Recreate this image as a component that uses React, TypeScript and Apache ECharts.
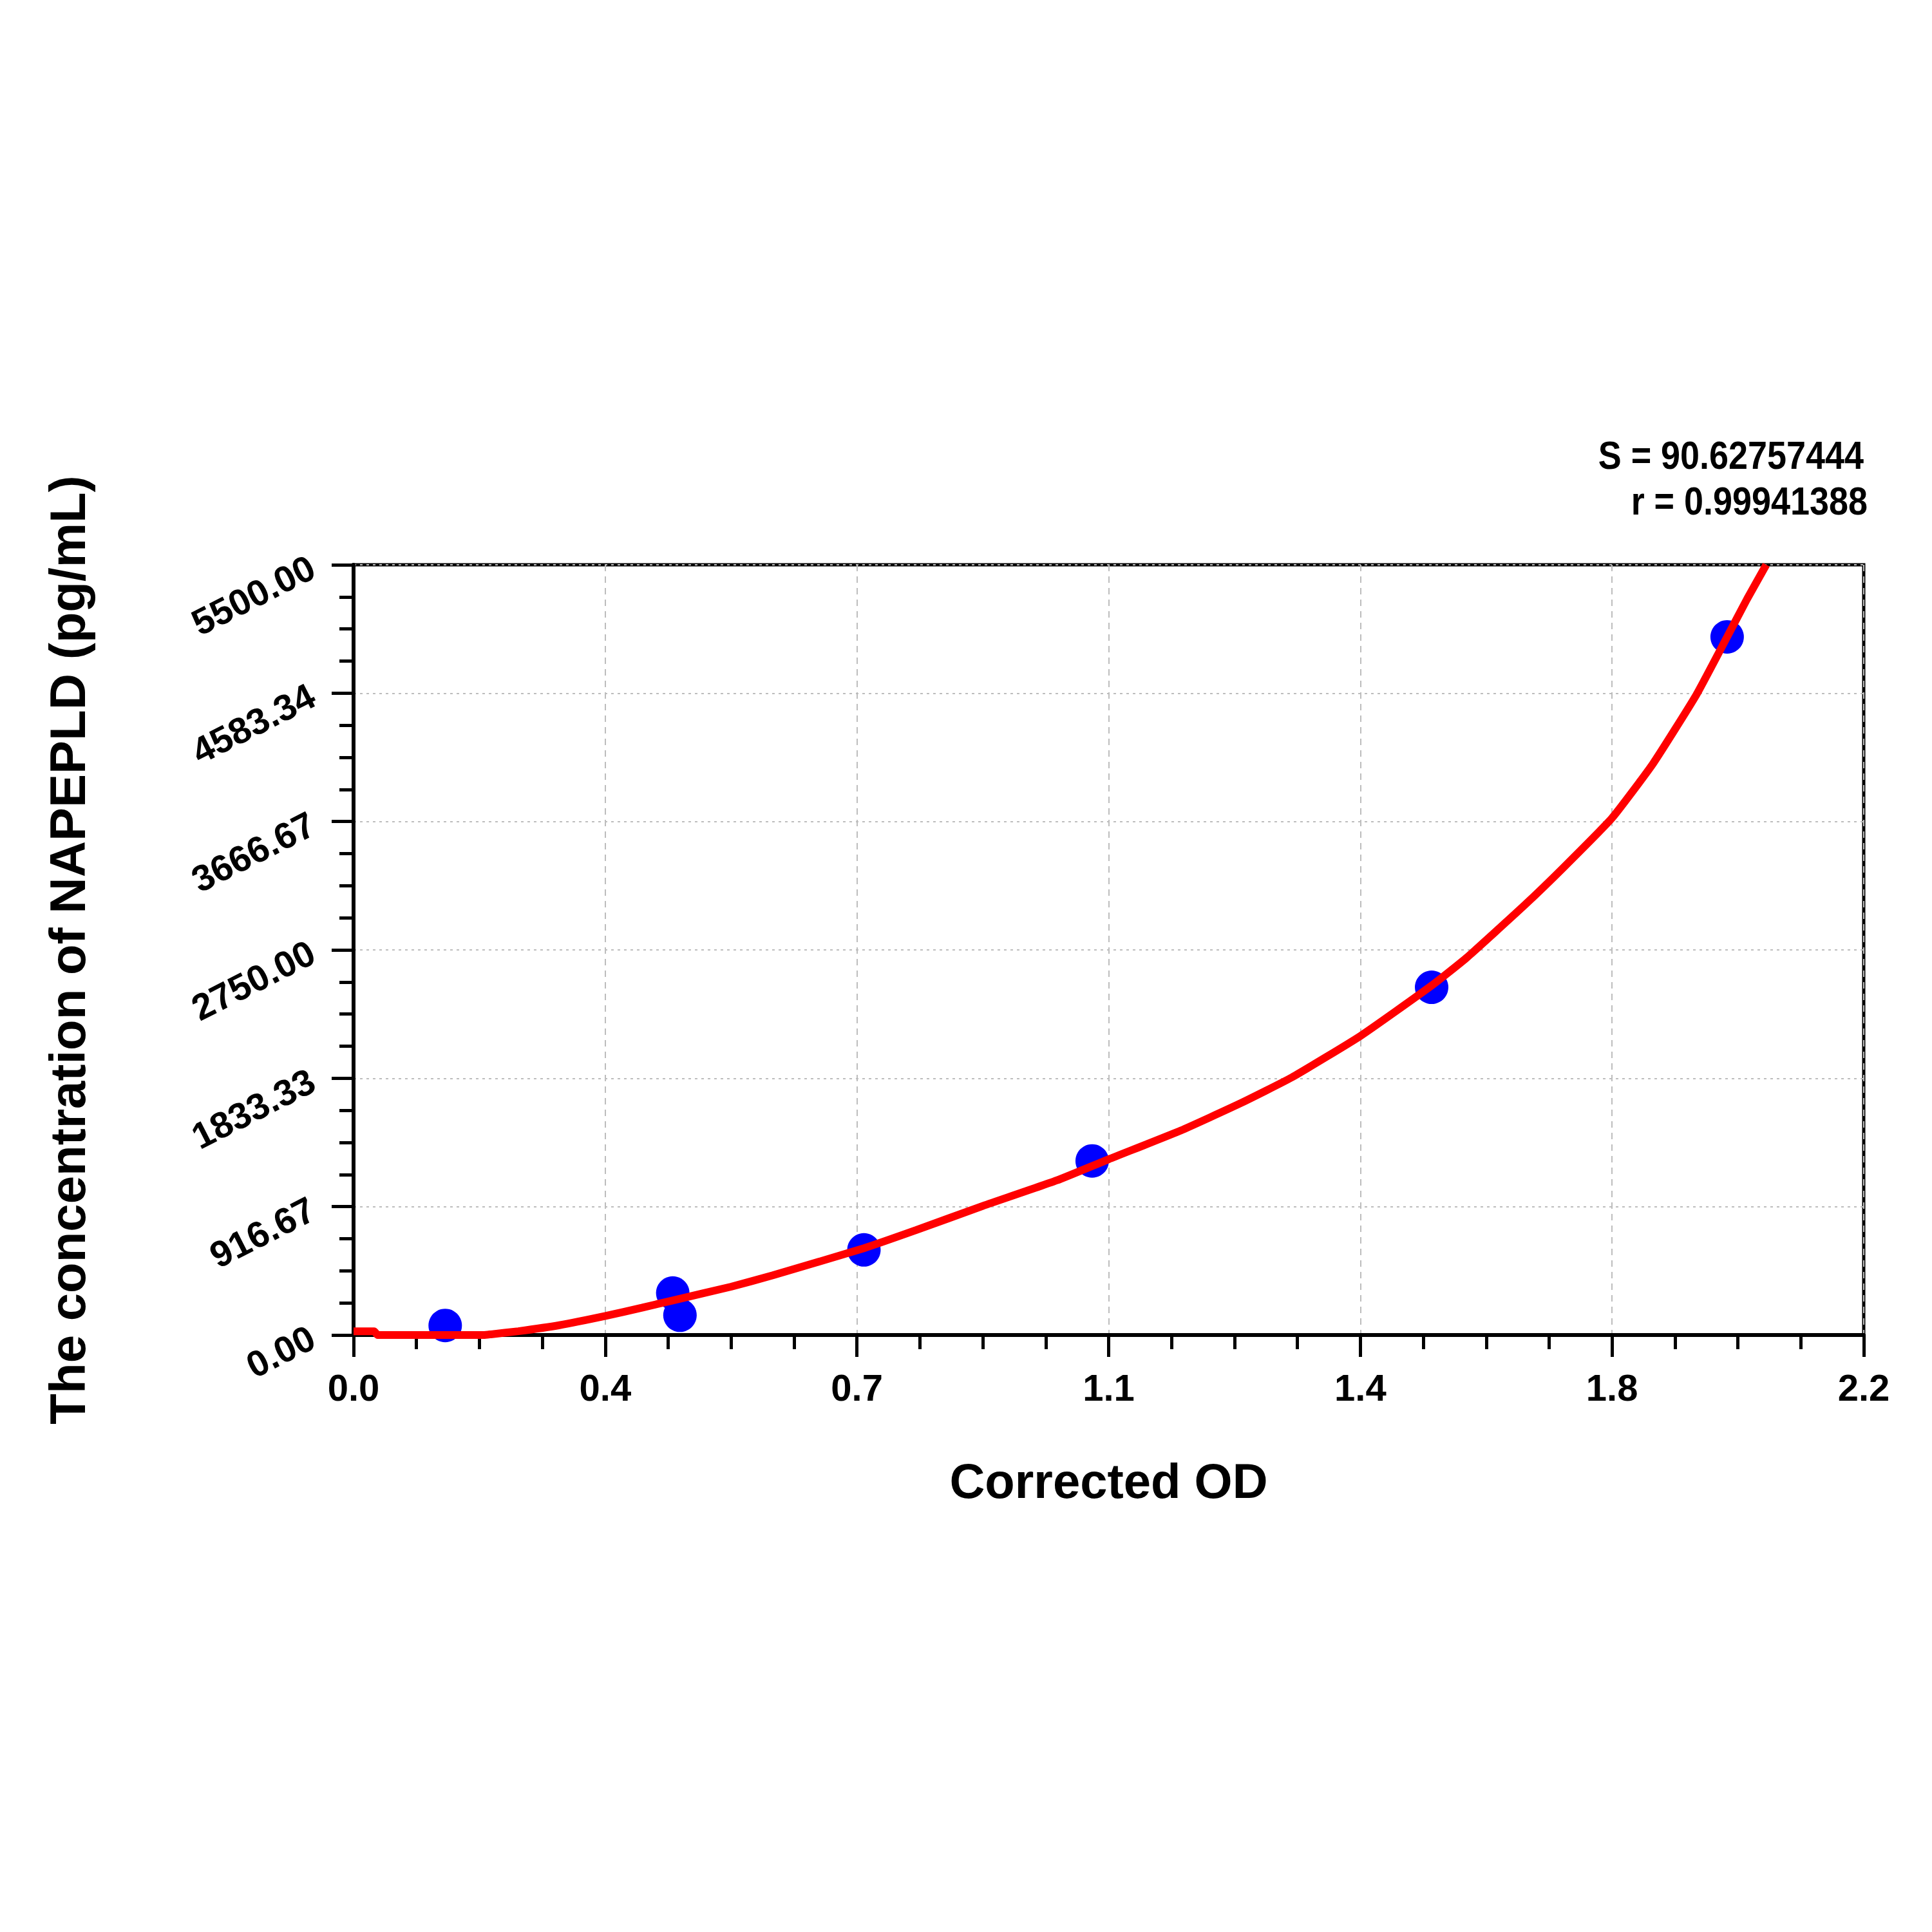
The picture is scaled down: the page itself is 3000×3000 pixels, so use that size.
import { useEffect, useRef } from 'react';
import * as echarts from 'echarts';

// tick labels as printed on the figure
const X_TICK_LABELS = ['0.0', '0.4', '0.7', '1.1', '1.4', '1.8', '2.2'];
const Y_TICK_LABELS = ['0.00', '916.67', '1833.33', '2750.00', '3666.67', '4583.34', '5500.00'];

// standards (corrected OD vs concentration)
const STD_OD = [0.1335, 0.465, 0.4755, 0.7435, 1.076, 1.5705, 2.001];
const STD_CONC = [68, 300, 141, 608, 1243, 2483, 4985];

// fitted curve
const FIT_OD = [0, 0.03, 0.035, 0.1, 0.19, 0.2, 0.24, 0.3, 0.367, 0.42, 0.465, 0.55, 0.61, 0.7435, 0.82, 0.914, 1.025, 1.1, 1.205, 1.29, 1.367, 1.4667, 1.5705, 1.621, 1.706, 1.763, 1.833, 1.893, 1.956, 2.001, 2.03, 2.058];
const FIT_CONC = [27, 27, 0, 0, 0, 5, 27, 70, 136, 195, 247, 345, 425, 620, 750, 917, 1105, 1255, 1460, 1650, 1840, 2135, 2495, 2692, 3070, 3340, 3690, 4080, 4570, 4985, 5255, 5500];

const STATS = ['S = 90.62757444', 'r = 0.99941388'];

const FONT = 'Arial, "Liberation Sans", sans-serif';

const App = () => {
  const chartRef = useRef<HTMLDivElement>(null);

  useEffect(() => {
    if (!chartRef.current) return;
    const myChart = echarts.init(chartRef.current, undefined, { renderer: 'svg' });

    const option: echarts.EChartsOption = {
      animation: false,
      backgroundColor: '#fff',
      textStyle: { fontFamily: FONT, fontWeight: 'bold', color: '#000' },
      grid: {
        left: 549,
        right: 106,
        top: 877,
        bottom: 927,
        show: true,
        borderColor: '#000',
        borderWidth: 5,
        backgroundColor: 'transparent',
      },
      xAxis: {
        type: 'value',
        min: 0,
        max: 2.2,
        interval: 2.2 / 6,
        name: 'Corrected OD',
        nameLocation: 'middle',
        nameGap: 188,
        nameTextStyle: { fontSize: 76, fontWeight: 'bold', color: '#000', fontFamily: FONT },
        axisLine: { lineStyle: { color: '#000', width: 6 } },
        axisTick: { length: 34, lineStyle: { color: '#000', width: 5 } },
        minorTick: { show: true, splitNumber: 4, length: 22, lineStyle: { color: '#000', width: 5 } },
        axisLabel: {
          margin: 52,
          fontSize: 58,
          fontWeight: 'bold',
          color: '#000',
          fontFamily: FONT,
          formatter: (_v: number, i: number) => X_TICK_LABELS[i] ?? '',
        },
        splitLine: { show: true, lineStyle: { color: '#bdbdbd', width: 2, type: [10, 8] } },
      },
      yAxis: {
        type: 'value',
        min: 0,
        max: 5500,
        interval: 5500 / 6,
        name: 'The concentration of NAPEPLD (pg/mL)',
        nameLocation: 'middle',
        nameGap: 405,
        nameTextStyle: { fontSize: 78, fontWeight: 'bold', color: '#000', fontFamily: FONT },
        axisLine: { lineStyle: { color: '#000', width: 6 } },
        axisTick: { length: 34, lineStyle: { color: '#000', width: 5 } },
        minorTick: { show: true, splitNumber: 4, length: 22, lineStyle: { color: '#000', width: 5 } },
        axisLabel: {
          margin: 64,
          rotate: 27,
          fontSize: 57,
          fontWeight: 'bold',
          color: '#000',
          fontFamily: FONT,
          formatter: (_v: number, i: number) => Y_TICK_LABELS[i] ?? '',
        },
        splitLine: { show: true, lineStyle: { color: '#bdbdbd', width: 2, type: [4, 6] } },
      },
      graphic: STATS.map((t, i) => ({
        type: 'text',
        x: [2894, 2900][i],
        y: 706 + i * 71,
        scaleX: 0.87,
        style: {
          text: t,
          align: 'right',
          verticalAlign: 'middle',
          fontSize: 62,
          fontWeight: 'bold',
          fontFamily: FONT,
          fill: '#000',
        },
      })),
      series: [
        {
          type: 'scatter',
          data: STD_OD.map((x, i) => [x, STD_CONC[i]]),
          symbol: 'circle',
          symbolSize: 52,
          itemStyle: { color: '#0000ff', opacity: 1 },
          z: 3,
        },
        {
          type: 'line',
          data: FIT_OD.map((x, i) => [x, FIT_CONC[i]]),
          showSymbol: false,
          smooth: 0.15,
          lineStyle: { color: '#ff0000', width: 12 },
          z: 4,
        },
      ],
    };

    myChart.setOption(option);

    return () => {
      myChart.dispose();
    };
  }, []);

  return (
    <div
      ref={chartRef}
      style={{ position: 'absolute', left: 0, top: 0, width: '3000px', height: '3000px' }}
    />
  );
};

export default App;
